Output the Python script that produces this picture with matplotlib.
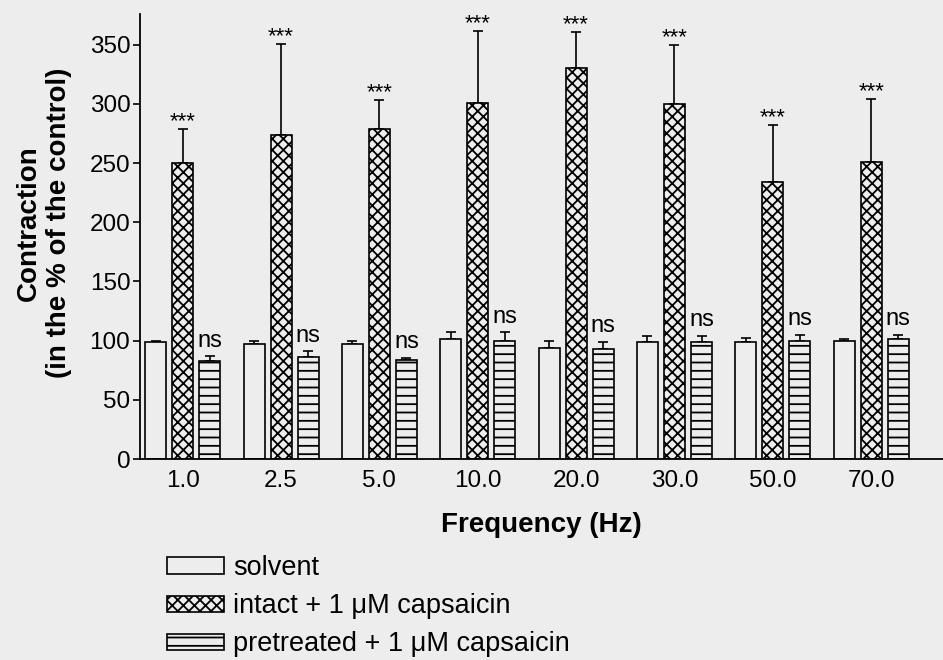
import matplotlib.pyplot as plt
import numpy as np

plt.rcParams['font.family'] = ['Liberation Sans', 'DejaVu Sans']
plt.rcParams['hatch.linewidth'] = 1.3

# values (mean, upper SEM)
freqs = ["1.0", "2.5", "5.0", "10.0", "20.0", "30.0", "50.0", "70.0"]
solvent = [99, 97, 97, 101, 94, 99, 99, 100]
solvent_err = [1, 2.5, 3, 6, 6, 5, 3, 1]
intact = [250, 274, 279, 301, 330, 300, 234, 251]
intact_err = [29, 77, 24, 61, 31, 50, 48, 53]
pretreated = [83, 86, 84, 100, 93, 99, 100, 101]
pretreated_err = [4, 5, 1.5, 7, 6, 5, 5, 4]
intact_sig = ["***"] * 8
pretreated_sig = ["ns"] * 8

bg = '#ededed'
fig = plt.figure(figsize=(9.43, 6.6), dpi=100, facecolor=bg)
ax = fig.add_axes([0.1485, 0.3045, 0.8515, 0.6743])
ax.set_facecolor(bg)

x = np.arange(len(freqs))
w = 0.214
off = 0.275
series = [
    (solvent, solvent_err, '', "solvent"),
    (intact, intact_err, 'xxx', "intact + 1 \u03bcM capsaicin"),
    (pretreated, pretreated_err, '--', "pretreated + 1 \u03bcM capsaicin"),
]
for k, (vals, err, hatch, label) in enumerate(series):
    pos = x + (k - 1) * off
    ax.bar(pos, vals, w, color=bg, edgecolor='black', linewidth=1.2,
           hatch=hatch, label=label, zorder=2)
    ax.errorbar(pos, vals, yerr=[np.zeros(len(vals)), err], fmt='none',
                ecolor='black', elinewidth=1.2, capsize=3.8, capthick=1.2,
                zorder=1)

# significance marks
for i in range(len(freqs)):
    top = intact[i] + intact_err[i]
    ax.text(x[i], top + 1.5, intact_sig[i], ha='center', va='baseline',
            fontsize=16)
    top = pretreated[i] + pretreated_err[i]
    ax.text(x[i] + off, top + 8, pretreated_sig[i], ha='center',
            va='baseline', fontsize=17)

ax.set_xlim(-0.434, 7.73)
ax.set_ylim(0, 376)
ax.set_yticks(np.arange(0, 351, 50))
ax.set_xticks(x)
ax.set_xticklabels(freqs)
ax.tick_params(axis='x', length=0, pad=8, labelsize=17.5)
ax.tick_params(axis='y', length=5, width=1.2, pad=2, labelsize=17.5)
for s in ['top', 'right']:
    ax.spines[s].set_visible(False)
for s in ['left', 'bottom']:
    ax.spines[s].set_linewidth(1.3)

ax.set_xlabel("Frequency (Hz)", fontsize=20, fontweight='bold', labelpad=14)
ax.set_ylabel("Contraction\n(in the % of the control)", fontsize=20,
              fontweight='bold', linespacing=1.2)
ax.yaxis.set_label_coords(-0.085, 0.53)

fig.legend(loc='upper left', bbox_to_anchor=(0.177, 0.159), frameon=False,
           fontsize=19.5, handlelength=2.1, handleheight=0.55,
           handletextpad=0.35, labelspacing=0.45, borderpad=0,
           borderaxespad=0)

fig.savefig('out.png', dpi=100, facecolor=bg)
